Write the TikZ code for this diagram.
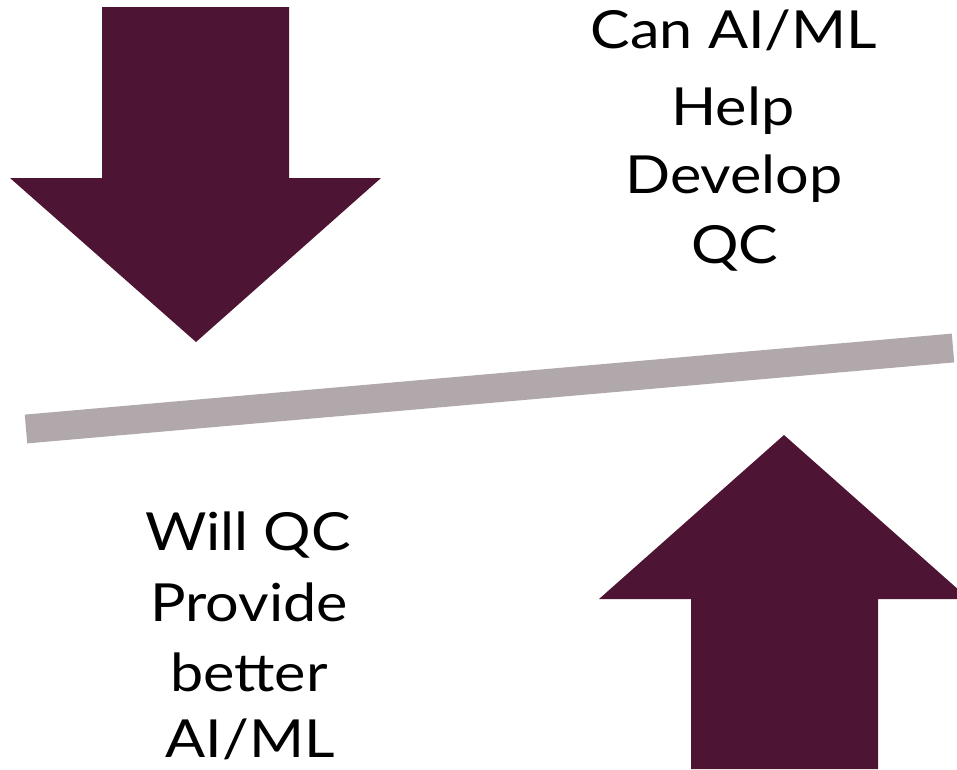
\documentclass[tikz,border=0pt]{standalone}
\usepackage{fontspec}
\setmainfont{Lato}[FakeStretch=1.13]
\definecolor{maroon}{HTML}{4D1533}
\definecolor{bargray}{HTML}{B1A8AC}
\begin{document}
\begin{tikzpicture}[x=1pt,y=-1pt,
  arrowshape/.style={fill=maroon,draw=none},
  txt/.style={anchor=base,inner sep=0pt,font=\fontsize{52.5}{71.5}\selectfont,text=black}]
\useasboundingbox (0,0) rectangle (957,769);
\clip (0,0) rectangle (957,769);
% down arrow
\fill[arrowshape] (102,7) -- (289,7) -- (289,178) -- (381,178) -- (196,342) -- (10,178) -- (102,178) -- cycle;
% up arrow
\fill[arrowshape] (784,435) -- (969,599) -- (878,599) -- (878,769) -- (691,769) -- (691,599) -- (599,599) -- cycle;
% gray bar
\coordinate (barL) at (26,429);
\coordinate (barR) at (953,348);
\draw[bargray,line width=28.9pt,line cap=butt] (barL) -- (barR);
% texts
\node[txt] (t1) at (734,48) {Can AI/ML};
\node[txt] (t2) at (733,125) {Help};
\node[txt] (t3) at (734,193) {Develop};
\node[txt] (t4) at (735,263) {QC};
\node[txt] (b1) at (248,550) {Will QC};
\node[txt] (b2) at (249,621) {Provide};
\node[txt] (b3) at (249,691) {better};
\node[txt] (b4) at (250,757) {AI/ML};
\end{tikzpicture}
\end{document}
